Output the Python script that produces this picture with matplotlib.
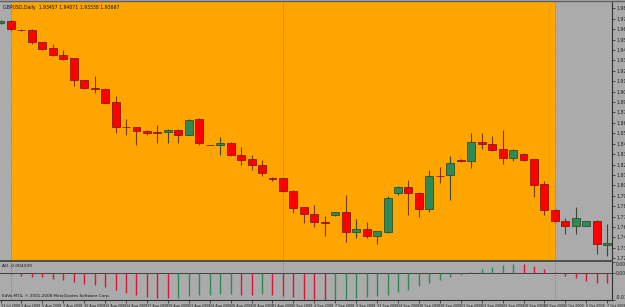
import matplotlib
matplotlib.use('Agg')
import matplotlib.pyplot as plt
from matplotlib.patches import Rectangle

# ---------------- data ----------------
bar_index = list(range(-1, 58))
opens = [1.97217, 1.97425, 1.96521, 1.96490, 1.95243, 1.94589, 1.93893, 1.93550, 1.91295, 1.90412,
         1.90308, 1.89009, 1.86401, 1.86381, 1.85965, 1.85882, 1.85861, 1.86100, 1.85612, 1.87212,
         1.84562, 1.84510, 1.84781, 1.83503, 1.83087, 1.82464, 1.81113, 1.81082, 1.79793, 1.78069,
         1.77372, 1.76500, 1.77300, 1.77580, 1.75533, 1.75783, 1.75055, 1.75533, 1.79523, 1.80147,
         1.79586, 1.77923, 1.81362, 1.81393, 1.82983, 1.82879, 1.84853, 1.84645, 1.84095, 1.83222,
         1.83638, 1.83056, 1.80489, 1.77788, 1.76676, 1.76126, 1.76157, 1.76645, 1.74120]
highs = [1.97529, 1.97529, 1.96563, 1.96594, 1.95295, 1.95035, 1.94412, 1.93581, 1.91320, 1.91711,
         1.90464, 1.89633, 1.87212, 1.86412, 1.86100, 1.86620, 1.86204, 1.86204, 1.87243, 1.87347,
         1.84593, 1.85342, 1.84853, 1.84365, 1.83503, 1.82983, 1.81165, 1.81113, 1.79866, 1.78100,
         1.78308, 1.77165, 1.77632, 1.79347, 1.76853, 1.76541, 1.75658, 1.79243, 1.80230, 1.80905,
         1.79620, 1.81944, 1.82287, 1.83399, 1.83035, 1.85820, 1.85820, 1.85508, 1.86100, 1.84074,
         1.83710, 1.83087, 1.80801, 1.77840, 1.76957, 1.78069, 1.76697, 1.76749, 1.76333]
lows = [1.97113, 1.96490, 1.96386, 1.95035, 1.94412, 1.93789, 1.93373, 1.90672, 1.90360, 1.89944,
        1.88905, 1.85820, 1.85581, 1.84542, 1.85581, 1.84781, 1.84781, 1.84781, 1.85529, 1.84542,
        1.84490, 1.83503, 1.83399, 1.82464, 1.81944, 1.81321, 1.80853, 1.79710, 1.77508, 1.76437,
        1.76053, 1.75087, 1.77165, 1.74494, 1.74879, 1.74879, 1.74255, 1.75398, 1.79398, 1.77269,
        1.77092, 1.77611, 1.80562, 1.78827, 1.82775, 1.82183, 1.84126, 1.83970, 1.82567, 1.82879,
        1.82931, 1.79170, 1.77269, 1.76593, 1.75294, 1.75346, 1.76074, 1.73216, 1.73009]
closes = [1.97425, 1.96594, 1.96459, 1.95243, 1.94547, 1.93861, 1.93508, 1.91295, 1.90433, 1.90370,
          1.88937, 1.86381, 1.86360, 1.85996, 1.85757, 1.85840, 1.86100, 1.85612, 1.87139, 1.84718,
          1.84521, 1.84781, 1.83471, 1.82983, 1.82464, 1.81664, 1.81051, 1.79793, 1.78027, 1.77372,
          1.76572, 1.76437, 1.77549, 1.75533, 1.75845, 1.75055, 1.75575, 1.79035, 1.80147, 1.79586,
          1.77923, 1.81289, 1.81279, 1.82640, 1.82848, 1.84822, 1.84645, 1.84053, 1.83222, 1.83991,
          1.83014, 1.80417, 1.77757, 1.76676, 1.76126, 1.76905, 1.76645, 1.74224, 1.74328]

ao_values = [-0.00020, -0.00060, -0.00109, -0.00152, -0.00181, -0.00236, -0.00290, -0.00392, -0.00459, -0.00518,
             -0.00602, -0.00711, -0.00838, -0.00922, -0.00994, -0.01036, -0.01057, -0.01036, -0.00981, -0.00922,
             -0.00909, -0.00897, -0.00880, -0.00922, -0.00939, -0.00901, -0.00930, -0.00973, -0.01023, -0.01090,
             -0.01103, -0.01132, -0.01120, -0.01107, -0.01065, -0.01023, -0.00964, -0.00909, -0.00813, -0.00699,
             -0.00560, -0.00417, -0.00278, -0.00181, -0.00097, 0.00020, 0.00173, 0.00269, 0.00354, 0.00383,
             0.00375, 0.00299, 0.00173, 0.00038, -0.00109, -0.00223, -0.00320, -0.00404, -0.00434]

price_labels = ["1.98745", "1.97663", "1.96580", "1.95498", "1.94416", "1.93334", "1.92251", "1.91169",
                "1.90087", "1.89004", "1.87922", "1.86840", "1.85758", "1.84675", "1.83593", "1.82511",
                "1.81428", "1.80346", "1.79264", "1.78182", "1.77099", "1.76017", "1.74935", "1.73852",
                "1.72770"]
price_ticks = [float(s) for s in price_labels]

date_positions = [-1, 1, 3, 5, 7, 9, 11, 13, 15, 17, 19, 21, 23, 25, 27, 29, 31, 33, 35, 37,
                  39, 41, 43, 45, 47, 49, 51, 53, 55, 57]
date_labels = ["31 Jul 2008", "3 Aug 2008", "5 Aug 2008", "7 Aug 2008", "10 Aug 2008", "12 Aug 2008",
               "14 Aug 2008", "17 Aug 2008", "19 Aug 2008", "21 Aug 2008", "24 Aug 2008", "26 Aug 2008",
               "28 Aug 2008", "31 Aug 2008", "2 Sep 2008", "4 Sep 2008", "7 Sep 2008", "9 Sep 2008",
               "11 Sep 2008", "14 Sep 2008", "16 Sep 2008", "18 Sep 2008", "21 Sep 2008", "23 Sep 2008",
               "25 Sep 2008", "28 Sep 2008", "30 Sep 2008", "2 Oct 2008", "5 Oct 2008", "7 Oct 2008"]
month_separators = [0, 26, 52]
highlight_span = (0, 52)

ao_ticks = [0.004807, 0.0, -0.011402]
ao_tick_labels = ["0.004807", "0.00", "-0.011402"]

title_text = "GBPUSD,Daily  1.93457 1.94071 1.93338 1.93667"
ao_text = "AO -0.004339"
copyright_text = "EdVo MT4, \u00a9 2001-2008 MetaQuotes Software Corp."

# ---------------- style ----------------
GRAY = '#ABABAB'
ORANGE = '#FFA500'
W, H = 625, 307

fig = plt.figure(figsize=(W / 100, H / 100), dpi=100, facecolor=GRAY)

def fy(py):
    return 1 - py / H

XMIN, XMAX = -1.05, 57.46
ax = fig.add_axes([0, fy(259.5), 612 / W, (259.5 - 1.5) / H])
ax2 = fig.add_axes([0, fy(300.0), 612 / W, (300.0 - 261.5) / H])

for a in (ax, ax2):
    a.set_facecolor(GRAY)
    a.set_xlim(XMIN, XMAX)
    for s in ('top', 'left', 'bottom'):
        a.spines[s].set_visible(False)
    a.spines['right'].set_color('#303030')
    a.spines['right'].set_linewidth(0.8)
    a.yaxis.tick_right()
    a.tick_params(axis='y', length=2, width=0.5, pad=1, labelsize=3.3, colors='#202020')

ax.set_ylim(1.72645, 1.99451)
ax.axvspan(highlight_span[0], highlight_span[1], color=ORANGE, zorder=0, lw=0)
ax.set_xticks([])
ax.set_yticks(price_ticks)
ax.set_yticklabels(price_labels)

# candles
bw = 0.76
for i, o, h, l, c in zip(bar_index, opens, highs, lows, closes):
    up = c > o
    body = '#2E8B57' if up else '#FF0000'
    edge = '#2F4F2F' if up else '#8B1A00'
    wick = '#3A4A2A' if up else '#7A3A00'
    ax.vlines(i, l, h, color=wick, lw=0.8, zorder=2)
    lo, hi = min(o, c), max(o, c)
    ax.add_patch(Rectangle((i - bw / 2, lo), bw, max(hi - lo, 1e-5), facecolor=body,
                           edgecolor=edge, lw=0.6, zorder=3))

for m in month_separators:
    for a in (ax, ax2):
        a.axvline(m, color='#C07000', lw=0.7, ls=(0, (1, 1.5)), zorder=1)

ax.text(0.005, 0.985, title_text, transform=ax.transAxes, fontsize=3.3, va='top', ha='left',
        color='#101010')

# AO panel
ax2.set_ylim(-0.01140, 0.00480)
ao_colors = []
prev = None
for v in ao_values:
    ao_colors.append('#DC143C' if (prev is None or v <= prev) else '#2E8B57')
    prev = v
ax2.vlines(bar_index, 0, ao_values, colors=ao_colors, lw=1.0, zorder=2)
ax2.axhline(0, color='#404040', lw=0.7, zorder=1)
ax2.set_yticks(ao_ticks)
ax2.set_yticklabels(ao_tick_labels)
ylbls = ax2.get_yticklabels()
ylbls[0].set_va('top')
ylbls[2].set_va('bottom')
ax2.set_xticks(date_positions)
ax2.set_xticklabels(date_labels)
ax2.tick_params(axis='x', direction='out', length=2, width=0.5, pad=0.8, labelsize=2.45,
                colors='#202020')
for lbl in ax2.get_xticklabels():
    lbl.set_ha('left')
ax2.spines['bottom'].set_visible(True)
ax2.spines['bottom'].set_color('#303030')
ax2.spines['bottom'].set_linewidth(0.8)
ax2.text(0.004, 0.93, ao_text, transform=ax2.transAxes, fontsize=3.2, va='top', ha='left',
         color='#101010')
ax2.text(0.004, 0.04, copyright_text, transform=ax2.transAxes, fontsize=3.0, va='bottom',
         ha='left', color='#101010')

# panel separators / border
fig.add_artist(plt.Line2D([0, 612 / W], [fy(260.5), fy(260.5)], color='#404040', lw=1.2))
fig.add_artist(plt.Line2D([0, 1], [fy(0.6), fy(0.6)], color='#606060', lw=1.0))

fig.savefig('out.png', dpi=100, facecolor=GRAY)
